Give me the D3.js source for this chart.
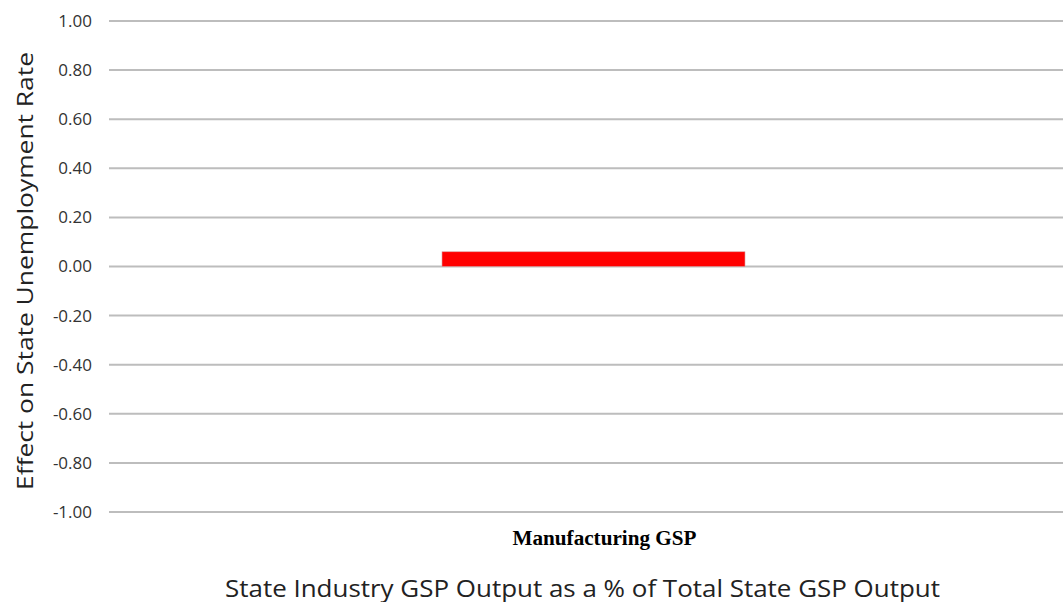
<!DOCTYPE html>
<html><head><meta charset="utf-8">
<script src="https://cdn.jsdelivr.net/npm/d3@7"></script>
<style>body{margin:0;background:#fff}</style>
</head><body>
<svg id="c" width="1063" height="602"></svg>
<script>
const categories = ["Manufacturing GSP"];
const values = [0.06];
const yTicks = [1.0, 0.8, 0.6, 0.4, 0.2, 0.0, -0.2, -0.4, -0.6, -0.8, -1.0];
const yTitle = "Effect on State Unemployment Rate";
const xTitle = "State Industry GSP Output as a % of Total State GSP Output";

(function () {
const svg = d3.select("#c");
const mLeft = 109, mRight = 1078, mTop = 21, mBottom = 512;
const y = d3.scaleLinear().domain([-1, 1]).range([mBottom, mTop]);
const x = d3.scaleBand().domain(categories).range([mLeft, mRight]).paddingInner(0.5236).paddingOuter(0.5236);
const fmt = d => d3.format(".2f")(d).replace("\u2212", "-");

// gridlines
svg.append("g").selectAll("line").data(yTicks).join("line")
  .attr("x1", mLeft).attr("x2", 1063)
  .attr("y1", d => y(d)).attr("y2", d => y(d))
  .attr("stroke", "#bdbdbd").attr("stroke-width", 2);

// y tick labels
svg.append("g").selectAll("text").data(yTicks).join("text")
  .attr("x", 92).attr("y", d => y(d)).attr("dy", "0.35em")
  .attr("text-anchor", "end")
  .attr("font-family", "Open Sans, Liberation Sans, sans-serif")
  .attr("font-size", 17).attr("fill", "#333")
  .text(fmt);

// bars
svg.append("g").selectAll("rect").data(values).join("rect")
  .attr("x", (d, i) => x(categories[i]))
  .attr("width", x.bandwidth())
  .attr("y", d => y(Math.max(0, d)))
  .attr("height", d => Math.abs(y(d) - y(0)))
  .attr("fill", "#ff0000").attr("stroke", "#d9a0a0").attr("stroke-width", 0.6);

// category labels
svg.append("g").selectAll("text").data(categories).join("text")
  .attr("x", d => x(d) + x.bandwidth() / 2 + 11).attr("y", 545)
  .attr("text-anchor", "middle")
  .attr("font-family", "Liberation Serif, Times New Roman, serif")
  .attr("font-size", 20.5).attr("font-weight", "bold").attr("fill", "#000")
  .attr("textLength", 184).attr("lengthAdjust", "spacingAndGlyphs")
  .text(d => d);

// y title
svg.append("text")
  .attr("transform", "translate(33,271) rotate(-90)")
  .attr("text-anchor", "middle")
  .attr("font-family", "Open Sans, Liberation Sans, sans-serif")
  .attr("font-size", 22.5).attr("fill", "#222")
  .attr("textLength", 438).attr("lengthAdjust", "spacingAndGlyphs")
  .text(yTitle);

// x title
svg.append("text")
  .attr("x", 582.5).attr("y", 597)
  .attr("text-anchor", "middle")
  .attr("font-family", "Open Sans, Liberation Sans, sans-serif")
  .attr("font-size", 24.5).attr("fill", "#222")
  .attr("textLength", 715).attr("lengthAdjust", "spacingAndGlyphs")
  .text(xTitle);
})();
</script>
</body></html>
